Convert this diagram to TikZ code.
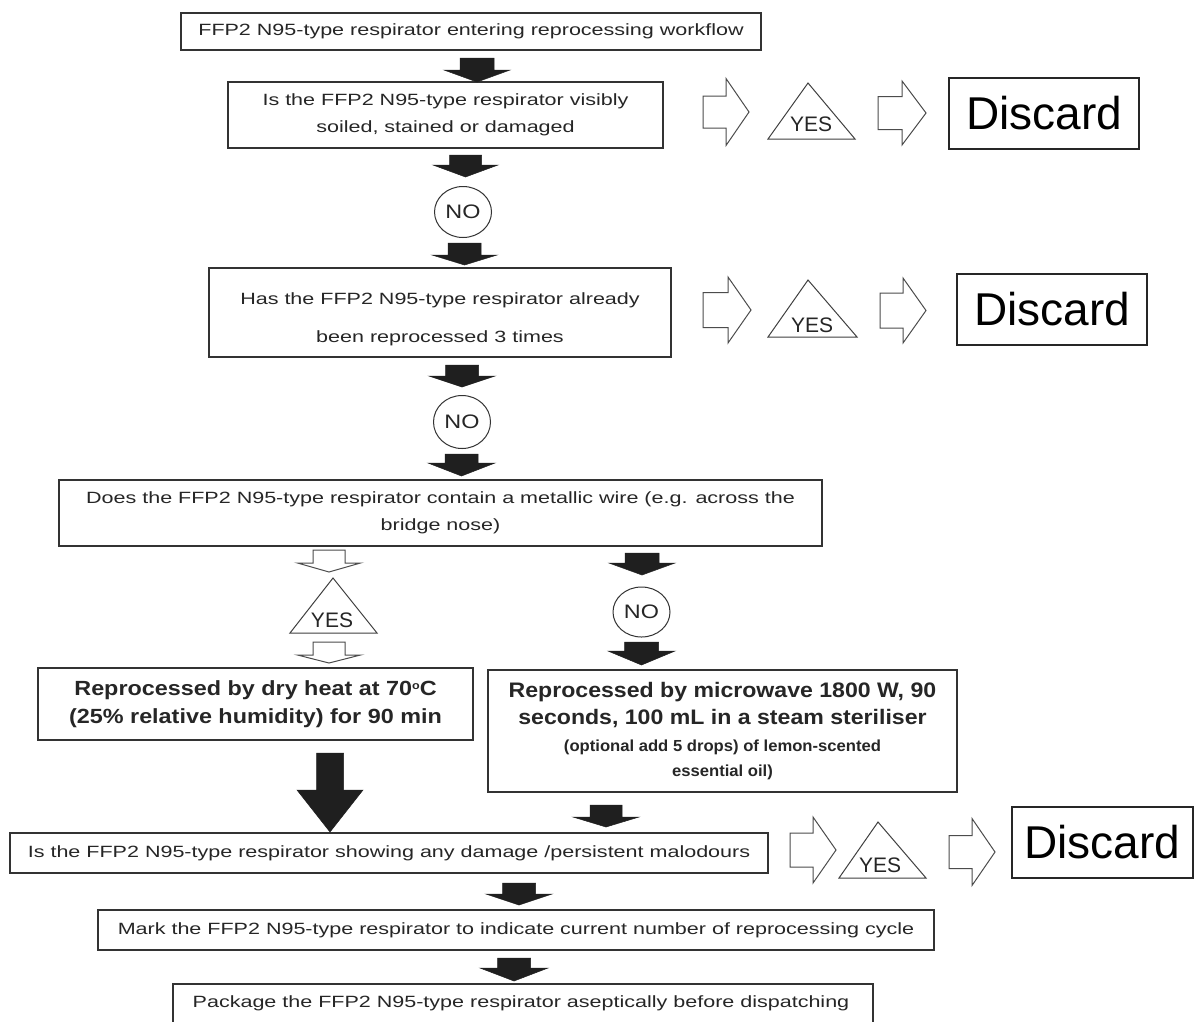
\documentclass[tikz,border=0pt]{standalone}
\usepackage{fontspec}
\setmainfont{Liberation Sans}
\usetikzlibrary{shapes.geometric}
% style, cx, top, headstart, shafthalf, headhalf, tip
\newcommand\blkdown[7]{\draw[#1] (#2-#5,#3) -- (#2+#5,#3) -- (#2+#5,#4) -- (#2+#6,#4) -- (#2,#7) -- (#2-#6,#4) -- (#2-#5,#4) -- cycle;}
% style, x0, xshaftend, xtip, yc, shafthalf, headhalf
\newcommand\hright[7]{\draw[#1] (#2,#5-#6) -- (#3,#5-#6) -- (#3,#5-#7) -- (#4,#5) -- (#3,#5+#7) -- (#3,#5+#6) -- (#2,#5+#6) -- cycle;}
\newcommand\sx[1]{\scalebox{1.32}[1]{#1}}
\newcommand\sxb[1]{\scalebox{1.14}[1]{#1}}
\newcommand\sxc[1]{\scalebox{1.1}[1]{#1}}
\newcommand\sxd[1]{\scalebox{1.04}[1]{#1}}
\newcommand\dego{\raisebox{6pt}{\fontsize{11}{11}\selectfont o}}
\tikzset{
  box/.style={draw=black!80, line width=1.1pt, fill=white, inner sep=0pt, align=center, text=black!85},
  blk/.style={fill=black!88, draw=black!88, line width=0.5pt, line join=miter},
  hol/.style={draw=black!70, line width=1pt, fill=white, line join=miter},
  tri/.style={draw=black!75, line width=1pt, line join=miter},
  tsm/.style={font=\fontsize{16.3}{27}\selectfont, text=black!85},
  yes/.style={font=\fontsize{21}{24}\selectfont, text=black!85, inner sep=0pt},
  nocirc/.style={draw=black!80, line width=1pt, ellipse, inner sep=0pt, text=black!85, font=\fontsize{19.5}{22}\selectfont},
  disc/.style={draw=black!85, line width=1.1pt, inner sep=0pt, font=\fontsize{46}{50}\selectfont, text=black}
}
\begin{document}
\begin{tikzpicture}[x=1pt,y=-1pt]
\useasboundingbox[fill=white] (0,0) rectangle (1198,1021);

% main boxes
\node[box,tsm,minimum width=580,minimum height=37] (b1) at (471,31.5) {\sx{FFP2 N95-type respirator entering reprocessing workflow}};
\node[box,tsm,minimum width=435,minimum height=66] (b2) at (445.5,115) {\sx{Is the FFP2 N95-type respirator visibly}\\\sx{soiled, stained or damaged}};
\node[box,minimum width=462,minimum height=89] (b3) at (440,312.5) {};
\node[tsm,align=center,inner sep=0pt] (b3t) at (440,319) {\sx{Has the FFP2 N95-type respirator already}\\[11pt]\sx{been reprocessed 3 times}};
\node[box,tsm,minimum width=763,minimum height=66] (b4) at (440.5,513) {\sx{Does the FFP2 N95-type respirator contain a metallic wire (e.g. across the}\\\sx{bridge nose)}};
\node[box,minimum width=435,minimum height=72,font=\fontsize{20.5}{28}\selectfont\bfseries] (b5) at (255.5,704) {\sxb{Reprocessed by dry heat at 70\dego C}\\\sxb{(25\% relative humidity) for 90 min}};
\node[box,minimum width=469,minimum height=122,font=\fontsize{21}{27}\selectfont\bfseries] (b6) at (722.5,731) {\sxc{Reprocessed by microwave 1800 W, 90}\\\sxc{seconds, 100 mL in a steam steriliser}\\{\fontsize{16}{25}\selectfont\bfseries\sxd{(optional add 5 drops) of lemon-scented}}\\[-2pt]{\fontsize{16}{25}\selectfont\bfseries\sxd{essential oil)}}};
\node[box,tsm,minimum width=758,minimum height=40] (b7) at (389,853) {\sx{Is the FFP2 N95-type respirator showing any damage /persistent malodours}};
\node[box,tsm,minimum width=836,minimum height=40] (b8) at (516,930) {\sx{Mark the FFP2 N95-type respirator to indicate current number of reprocessing cycle}};
\node[box,tsm,minimum width=700,minimum height=40] (b9) at (523,1004) {};
\node[tsm,inner sep=0pt] (b9t) at (521,1003) {\sx{Package the FFP2 N95-type respirator aseptically before dispatching}};

% discard boxes
\node[disc,minimum width=190,minimum height=71] (d1) at (1044,113.5) {Discard};
\node[disc,minimum width=190,minimum height=71] (d2) at (1052,309.5) {Discard};
\node[disc,minimum width=181,minimum height=71] (d3) at (1102.5,842.5) {Discard};

% black arrows
\blkdown{blk}{477}{58}{70}{17}{33}{82}
\blkdown{blk}{465.5}{155}{165}{16}{32.5}{177}
\blkdown{blk}{464.5}{243}{255}{16.5}{32.5}{265}
\blkdown{blk}{462}{365}{376}{16.5}{33}{387}
\blkdown{blk}{461.5}{454}{463}{16.5}{33.5}{476}
\blkdown{blk}{642}{553}{563}{17}{33}{575}
\blkdown{blk}{641.5}{642}{651}{17}{33.5}{665}
\blkdown{blk}{330}{753}{790}{13.5}{33}{832}
\blkdown{blk}{606}{805}{817}{16}{33}{827}
\blkdown{blk}{519}{883}{894}{16.5}{33}{905}
\blkdown{blk}{514}{958}{968}{16.5}{34}{981}

% hollow arrows
\blkdown{hol}{329}{550}{563}{16}{31.5}{572}
\blkdown{hol}{329}{642}{655}{16}{31.5}{663}
\hright{hol}{703}{726}{749}{112}{16}{33.5}
\hright{hol}{878}{902}{926}{113}{16.5}{32}
\hright{hol}{703}{728}{751}{310}{17.5}{33}
\hright{hol}{880}{903}{926}{310.5}{17.5}{32.5}
\hright{hol}{790}{813}{836}{850}{17}{33}
\hright{hol}{949}{972}{995}{852}{16.5}{33.5}

% NO circles
\node[nocirc,minimum width=57,minimum height=51] (no1) at (463,212) {\scalebox{1.2}[1]{NO}};
\node[nocirc,minimum width=57,minimum height=53] (no2) at (462,422) {\scalebox{1.2}[1]{NO}};
\node[nocirc,minimum width=57,minimum height=50] (no3) at (641.5,612) {\scalebox{1.2}[1]{NO}};

% YES triangles
\draw[tri] (768,139) -- (855,139) -- (808,83) -- cycle;
\node[yes] (y1) at (811,124) {YES};
\draw[tri] (768,337) -- (857,337) -- (808,280) -- cycle;
\node[yes] (y2) at (812,325) {YES};
\draw[tri] (839,878) -- (926,878) -- (878,822) -- cycle;
\node[yes] (y3) at (880,865) {YES};
\draw[tri] (290,633) -- (377,633) -- (333,578) -- cycle;
\node[yes] (y4) at (332,620) {YES};
\end{tikzpicture}
\end{document}
